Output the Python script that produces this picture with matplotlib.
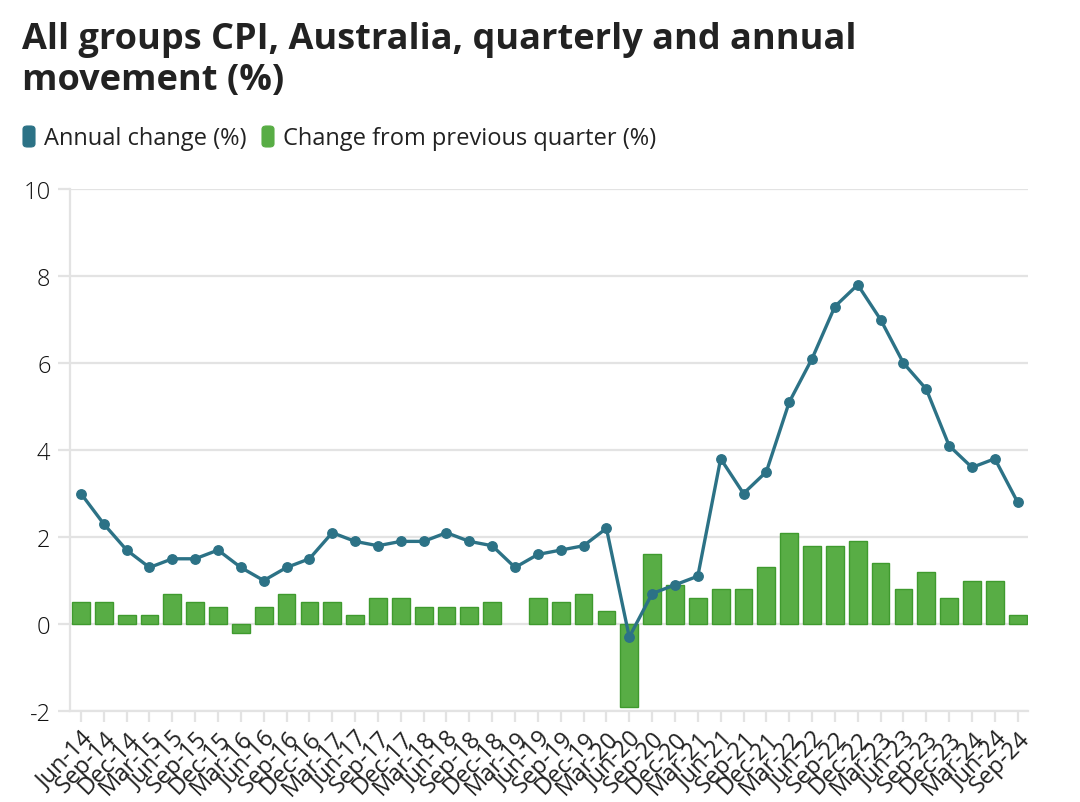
import numpy as np
import matplotlib.pyplot as plt
from matplotlib.patches import FancyBboxPatch

# quarter labels, Jun-14 .. Sep-24
quarters = ["Jun-14", "Sep-14", "Dec-14", "Mar-15", "Jun-15", "Sep-15", "Dec-15",
            "Mar-16", "Jun-16", "Sep-16", "Dec-16", "Mar-17", "Jun-17", "Sep-17",
            "Dec-17", "Mar-18", "Jun-18", "Sep-18", "Dec-18", "Mar-19", "Jun-19",
            "Sep-19", "Dec-19", "Mar-20", "Jun-20", "Sep-20", "Dec-20", "Mar-21",
            "Jun-21", "Sep-21", "Dec-21", "Mar-22", "Jun-22", "Sep-22", "Dec-22",
            "Mar-23", "Jun-23", "Sep-23", "Dec-23", "Mar-24", "Jun-24", "Sep-24"]

annual = [3.0, 2.3, 1.7, 1.3, 1.5, 1.5, 1.7, 1.3, 1.0, 1.3, 1.5, 2.1, 1.9, 1.8,
          1.9, 1.9, 2.1, 1.9, 1.8, 1.3, 1.6, 1.7, 1.8, 2.2, -0.3, 0.7, 0.9, 1.1,
          3.8, 3.0, 3.5, 5.1, 6.1, 7.3, 7.8, 7.0, 6.0, 5.4, 4.1, 3.6, 3.8, 2.8]

quarterly = [0.5, 0.5, 0.2, 0.2, 0.7, 0.5, 0.4, -0.2, 0.4, 0.7, 0.5, 0.5, 0.2, 0.6,
             0.6, 0.4, 0.4, 0.4, 0.5, 0.0, 0.6, 0.5, 0.7, 0.3, -1.9, 1.6, 0.9, 0.6,
             0.8, 0.8, 1.3, 2.1, 1.8, 1.8, 1.9, 1.4, 0.8, 1.2, 0.6, 1.0, 1.0, 0.2]

LINE_COL = "#2c7286"
BAR_COL = "#58ad45"
BAR_EDGE = "#3f9a2e"
GRID_COL = "#e3e3e3"
TXT = "#222222"

plt.rcParams['font.family'] = ['Open Sans', 'DejaVu Sans']

fig = plt.figure(figsize=(10.8, 8.03), dpi=100)
ax = fig.add_axes([0.0648, 0.1133, 0.887, 0.650])

x = np.arange(len(quarters))
# no outline on zero-height bars
edge_w = [0 if v == 0 else 1 for v in quarterly]
ax.bar(x, quarterly, width=0.78, color=BAR_COL, edgecolor=BAR_EDGE, linewidth=edge_w, zorder=2)
ax.plot(x, annual, color=LINE_COL, lw=2.4, marker="o", ms=6.8, zorder=3)

ax.set_xlim(-0.48, len(quarters) - 1 + 0.45)
ax.set_ylim(-2, 10)
ax.set_yticks([-2, 0, 2, 4, 6, 8, 10])
ax.set_yticklabels(["-2", "0", "2", "4", "6", "8", "10"], fontweight=300)
ax.grid(axis="y", color=GRID_COL, lw=1.6, zorder=0)
ax.set_axisbelow(True)

for s in ["top", "right"]:
    ax.spines[s].set_visible(False)
ax.spines["left"].set_color(GRID_COL)
ax.spines["left"].set_linewidth(1.6)
ax.spines["bottom"].set_color(GRID_COL)
ax.spines["bottom"].set_linewidth(1.6)

ax.tick_params(axis="y", length=9, width=1.6, color=GRID_COL, labelsize=17,
               labelcolor="#111111", pad=5)
ax.set_xticks(x)
ax.set_xticklabels(quarters, rotation=46, ha="right", rotation_mode="anchor")
ax.tick_params(axis="x", length=8, width=1.6, color=GRID_COL, labelsize=17,
               labelcolor=TXT, pad=3)

# title
fig.text(0.020, 0.972, "All groups CPI, Australia, quarterly and annual\nmovement (%)",
         fontsize=26, fontweight="bold", color=TXT, va="top", ha="left",
         linespacing=1.18)

# legend
def legend_item(xpix, color, label):
    box = FancyBboxPatch((xpix / 1080, 1 - 148 / 803), 12 / 1080, 21 / 803,
                         boxstyle="round,pad=0,rounding_size=0.004",
                         transform=fig.transFigure, facecolor=color,
                         edgecolor=color, lw=0.8)
    fig.patches.append(box)
    fig.text((xpix + 21) / 1080, 1 - 139 / 803, label, fontsize=17, color=TXT,
             va="center", ha="left")

legend_item(23, LINE_COL, "Annual change (%)")
legend_item(262, BAR_COL, "Change from previous quarter (%)")

fig.savefig("out.png", dpi=100)
